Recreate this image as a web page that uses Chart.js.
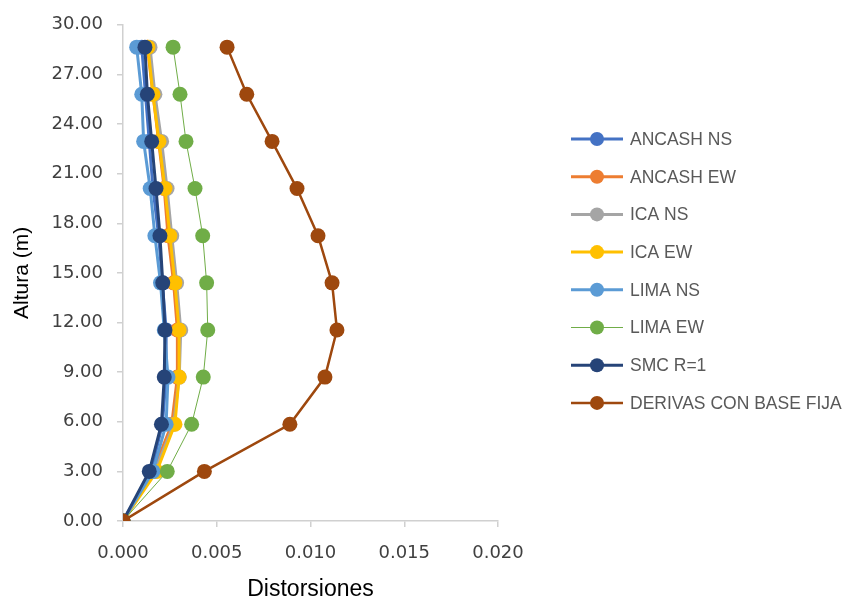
<!DOCTYPE html>
<html>
<head>
<meta charset="utf-8">
<script src="https://cdn.jsdelivr.net/npm/chart.js@4.4.1/dist/chart.umd.min.js"></script>
<style>
  html, body { margin: 0; padding: 0; background: #ffffff; }
  #wrap { width: 857px; height: 598px; position: relative; }
</style>
</head>
<body>
<div id="wrap"><canvas id="c" width="857" height="598"></canvas></div>
<script>
// Storey heights (m)
const alturas = [0, 3.0, 5.85, 8.7, 11.55, 14.4, 17.25, 20.1, 22.95, 25.8, 28.65];

// Inter-storey drifts per record
const ancashNS = [0, 0.0015, 0.0021, 0.0023, 0.0023, 0.0021, 0.0019, 0.0016, 0.0014, 0.0012, 0.0010];
const ancashEW = [0, 0.0016, 0.0026, 0.0029, 0.0029, 0.0027, 0.0024, 0.0022, 0.0019, 0.0016, 0.0013];
const icaNS    = [0, 0.0017, 0.0027, 0.0030, 0.00308, 0.00286, 0.0026, 0.00235, 0.00206, 0.0017, 0.00144];
const icaEW    = [0, 0.0018, 0.00277, 0.00299, 0.00299, 0.00277, 0.0025, 0.00224, 0.00192, 0.0016, 0.00133];
const limaNS   = [0, 0.0016, 0.0023, 0.0024, 0.0022, 0.0020, 0.0017, 0.00145, 0.0011, 0.0010, 0.00073];
const limaEW   = [0, 0.00236, 0.00366, 0.00428, 0.00452, 0.00446, 0.00425, 0.00384, 0.00336, 0.00304, 0.00267];
const smcR1    = [0, 0.0014, 0.00205, 0.0022, 0.00224, 0.00212, 0.00197, 0.00176, 0.00153, 0.0013, 0.00117];
const basefija = [0, 0.00434, 0.0089, 0.01077, 0.01141, 0.01115, 0.0104, 0.00928, 0.00795, 0.0066, 0.00555];

const nombres = ['ANCASH NS', 'ANCASH EW', 'ICA NS', 'ICA EW', 'LIMA NS', 'LIMA EW', 'SMC R=1', 'DERIVAS CON BASE FIJA'];
const series  = [ancashNS, ancashEW, icaNS, icaEW, limaNS, limaEW, smcR1, basefija];
const colores = ['#4472C4', '#ED7D31', '#A5A5A5', '#FFC000', '#5B9BD5', '#70AD47', '#264478', '#9E480E'];
const grosor  = [3, 3, 3, 3, 3, 1, 3, 2.5];

const n = series.length;
const datasets = series.map((vals, i) => ({
  label: nombres[i],
  data: vals.map((v, k) => ({ x: v, y: alturas[k] })),
  showLine: true,
  borderColor: colores[i],
  backgroundColor: colores[i],
  borderWidth: grosor[i],
  pointRadius: 7.5,
  pointHoverRadius: 7.5,
  pointBorderWidth: 0,
  pointBackgroundColor: colores[i],
  order: n - i   // later series painted on top
}));

// Legend on the right: line sample with a marker, then the name
const leyenda = {
  id: 'leyenda',
  afterDraw(chart) {
    const ctx = chart.ctx;
    const x0 = 571, x1 = 623, xm = 597, xt = 630;
    const y0 = 139, dy = 37.7;
    ctx.save();
    chart.data.datasets.forEach((ds, i) => {
      const y = y0 + i * dy;
      ctx.strokeStyle = ds.borderColor;
      ctx.lineWidth = ds.borderWidth;
      ctx.beginPath();
      ctx.moveTo(x0, y);
      ctx.lineTo(x1, y);
      ctx.stroke();
      ctx.fillStyle = ds.borderColor;
      ctx.beginPath();
      ctx.arc(xm, y, 7, 0, Math.PI * 2);
      ctx.fill();
      ctx.fillStyle = '#595959';
      ctx.font = '17.5px "Liberation Sans", Arial, sans-serif';
      ctx.textAlign = 'left';
      ctx.textBaseline = 'middle';
      ctx.fillText(ds.label, xt, y + 1);
    });
    ctx.restore();
  }
};

const tickFont = { family: '"DejaVu Sans", sans-serif', size: 18 };

new Chart(document.getElementById('c'), {
  type: 'scatter',
  data: { datasets },
  options: {
    responsive: false,
    animation: false,
    events: [],
    layout: { padding: { top: 19, right: 359, left: 0, bottom: 0 } },
    plugins: {
      legend: { display: false },
      tooltip: { enabled: false }
    },
    scales: {
      x: {
        type: 'linear',
        min: 0, max: 0.02,
        ticks: {
          stepSize: 0.005,
          color: '#404040',
          font: tickFont,
          padding: 16,
          callback: v => v.toFixed(3)
        },
        grid: { drawOnChartArea: false, drawTicks: true, tickLength: 6, color: '#d0d0d0', lineWidth: 1.5 },
        border: { color: '#d0d0d0', width: 1.5 },
        title: { display: true, text: 'Distorsiones', color: '#000000',
                 font: { family: '"Liberation Sans", Arial, sans-serif', size: 23 }, padding: { top: 8, bottom: -5 } },
        afterFit(scale) { scale.height = 77; }
      },
      y: {
        type: 'linear',
        min: 0, max: 30,
        ticks: {
          stepSize: 3,
          color: '#404040',
          font: tickFont,
          padding: 14,
          callback: v => v.toFixed(2)
        },
        grid: { drawOnChartArea: false, drawTicks: true, tickLength: 6, color: '#d0d0d0', lineWidth: 1.5 },
        border: { color: '#d0d0d0', width: 1.5 },
        title: { display: true, text: 'Altura (m)', color: '#000000',
                 font: { family: '"Liberation Sans", Arial, sans-serif', size: 21 }, padding: { top: 10, bottom: 0 } },
        afterFit(scale) { scale.width = 123; }
      }
    }
  },
  plugins: [leyenda]
});
</script>
</body>
</html>
